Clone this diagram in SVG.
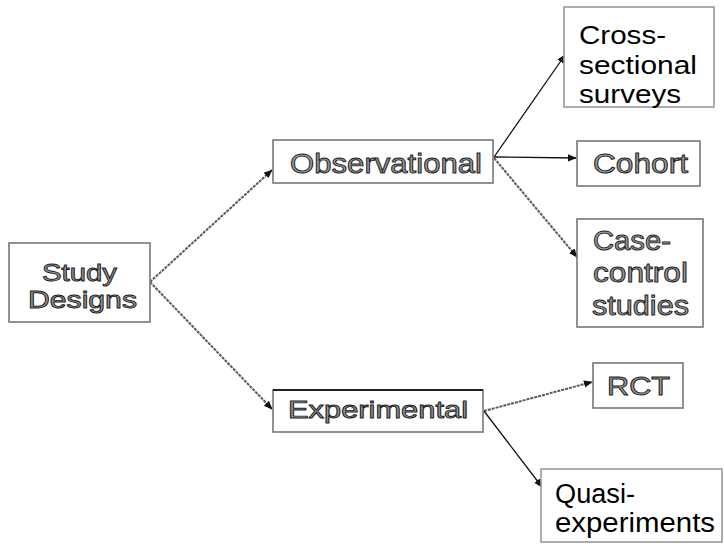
<svg xmlns="http://www.w3.org/2000/svg" width="724" height="544" viewBox="0 0 724 544">
<defs>
<style>
.box{fill:#fff;stroke:#777;stroke-width:1.6}
.fz{font-family:"Liberation Sans",Arial,sans-serif;fill:#9a9a9a;stroke:#1c1c1c;stroke-width:0.9}
.cl{font-family:"Liberation Sans",Arial,sans-serif;fill:#000;font-size:26px}
.cg{fill:none;stroke:#5a5a5a;stroke-width:2;stroke-dasharray:3 1}
.cb{fill:none;stroke:#111;stroke-width:1.3}
</style>
<marker id="ah" viewBox="0 0 10 10" refX="9" refY="5" markerWidth="9" markerHeight="9" markerUnits="userSpaceOnUse" orient="auto">
<path d="M0,1 L10,5 L0,9 Z" fill="#111"/>
</marker>
</defs>
<rect width="724" height="544" fill="#fff"/>
<g id="connectors">
<line class="cg" x1="150" y1="282" x2="272" y2="170" marker-end="url(#ah)"/>
<line class="cg" x1="150" y1="282" x2="272" y2="409" marker-end="url(#ah)"/>
<line class="cb" x1="494" y1="157" x2="565" y2="55" marker-end="url(#ah)"/>
<line class="cb" x1="494" y1="157" x2="576" y2="158" marker-end="url(#ah)"/>
<line class="cg" x1="494" y1="158" x2="577" y2="257" marker-end="url(#ah)"/>
<line class="cg" x1="484" y1="411" x2="592" y2="382" marker-end="url(#ah)"/>
<line class="cb" x1="484" y1="411" x2="542" y2="487" marker-end="url(#ah)"/>
</g>
<g id="study-designs">
<rect class="box" x="9" y="243" width="141" height="79"/>
<text class="fz" font-size="24" x="42" y="281" textLength="75" lengthAdjust="spacingAndGlyphs">Study</text>
<text class="fz" font-size="24" x="28" y="308" textLength="109" lengthAdjust="spacingAndGlyphs">Designs</text>
</g>
<g id="observational">
<rect class="box" x="273" y="140" width="220" height="43"/>
<text class="fz" font-size="27" x="290" y="173" textLength="192" lengthAdjust="spacingAndGlyphs">Observational</text>
</g>
<g id="experimental">
<rect class="box" x="273" y="390" width="210" height="42"/>
<line x1="273" y1="390" x2="483" y2="390" stroke="#222" stroke-width="2"/>
<text class="fz" font-size="24" x="288" y="418" textLength="180" lengthAdjust="spacingAndGlyphs">Experimental</text>
</g>
<g id="cross-sectional">
<rect class="box" x="564" y="7" width="150" height="100" style="stroke:#999"/>
<text class="cl" x="579" y="44" textLength="87" lengthAdjust="spacingAndGlyphs">Cross-</text>
<text class="cl" x="579" y="74" textLength="118" lengthAdjust="spacingAndGlyphs">sectional</text>
<text class="cl" x="579" y="103" textLength="102" lengthAdjust="spacingAndGlyphs">surveys</text>
</g>
<g id="cohort">
<rect class="box" x="577" y="141" width="123" height="45"/>
<text class="fz" font-size="27" x="593" y="173" textLength="95" lengthAdjust="spacingAndGlyphs">Cohort</text>
</g>
<g id="case-control">
<rect class="box" x="577" y="219" width="126" height="108"/>
<text class="fz" font-size="27" x="593" y="250" textLength="78" lengthAdjust="spacingAndGlyphs">Case-</text>
<text class="fz" font-size="27" x="593" y="282" textLength="95" lengthAdjust="spacingAndGlyphs">control</text>
<text class="fz" font-size="27" x="592" y="315" textLength="97" lengthAdjust="spacingAndGlyphs">studies</text>
</g>
<g id="rct">
<rect class="box" x="593" y="363" width="90" height="45"/>
<text class="fz" font-size="25" x="607" y="395" textLength="63" lengthAdjust="spacingAndGlyphs">RCT</text>
</g>
<g id="quasi">
<rect class="box" x="541" y="469" width="181" height="73" style="stroke:#999"/>
<text class="cl" x="555" y="503" font-size="27" style="font-size:27px" textLength="80" lengthAdjust="spacingAndGlyphs">Quasi-</text>
<text class="cl" x="555" y="532" style="font-size:27px" textLength="160" lengthAdjust="spacingAndGlyphs">experiments</text>
</g>
</svg>
